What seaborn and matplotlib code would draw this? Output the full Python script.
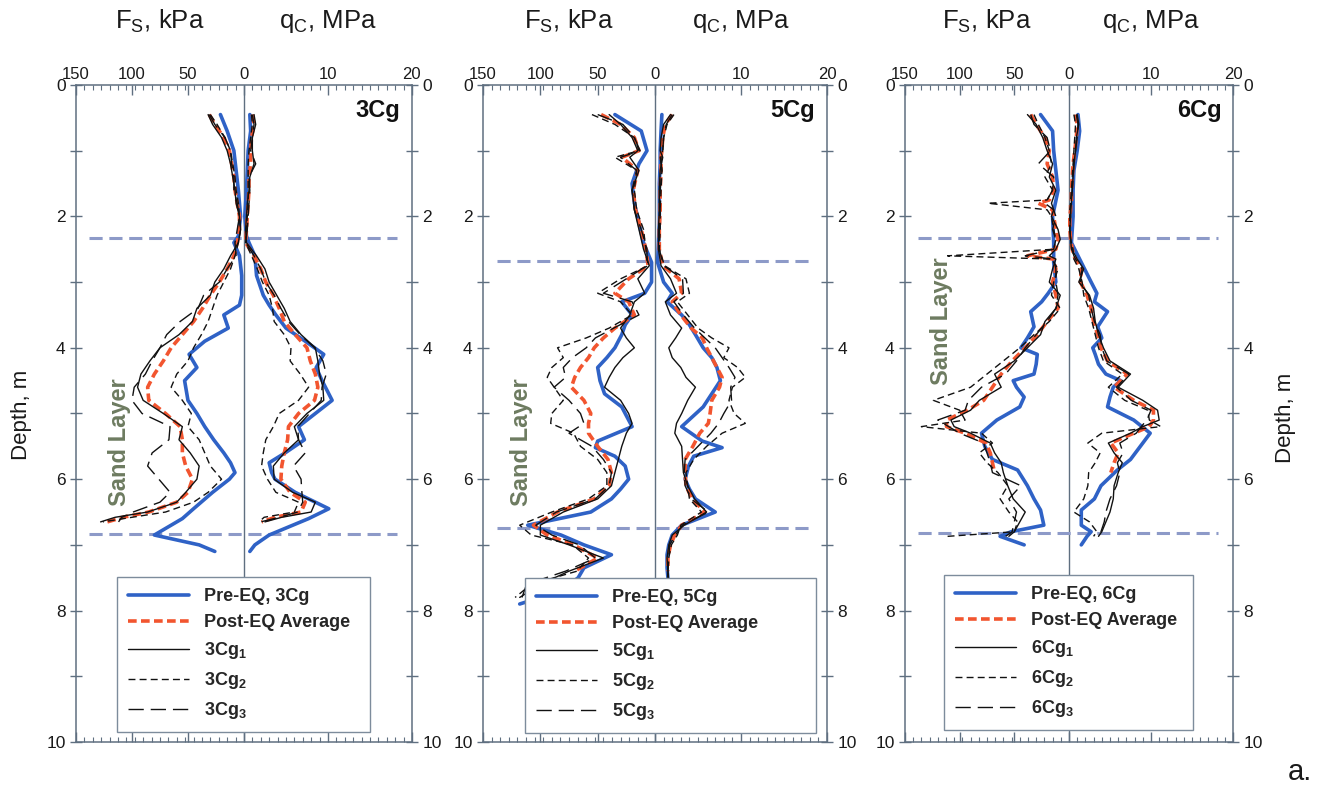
import numpy as np
import matplotlib
matplotlib.use("Agg")
import matplotlib.pyplot as plt
import seaborn as sns

sns.set_style("ticks")
plt.rcParams["font.family"] = ["Liberation Sans", "DejaVu Sans"]
plt.rcParams["mathtext.fontset"] = "custom"
plt.rcParams["mathtext.rm"] = "Liberation Sans"
plt.rcParams["mathtext.bf"] = "Liberation Sans:bold"
plt.rcParams["mathtext.default"] = "rm"

FS_PER_UNIT = 7.5  # 150 kPa of Fs shares the width of 20 MPa of qc

# ---------------- Panel 1 : 3Cg ----------------
p1_depth_pre = [0.45,0.7,1.0,1.3,1.6,2.0,2.3,2.4,2.6,2.9,3.2,3.35,3.5,3.7,3.9,4.1,4.3,4.5,4.8,5.0,5.2,5.4,5.6,5.75,5.9,6.0,6.2,6.45,6.6,6.85,7.0,7.1]
p1_fs_pre = [21,15,9,7,5,3,5,9,4,2,2,4,18,14,35,49,42,53,50,42,35,27,18,12,8,13,28,45,55,80,40,26]
p1_qc_pre = [0.7,0.8,0.5,0.4,0.3,0.1,0.3,0.6,1.3,1.5,2.3,3.0,3.8,5.0,7.3,9.5,8.6,9.3,10.5,8.5,6.5,7.2,4.9,3.0,3.3,3.7,6.1,10.1,7.7,3.0,1.3,0.7]
p1_depth_post = [0.45,0.6,0.8,1.0,1.2,1.4,1.6,1.8,2.0,2.2,2.4,2.6,2.8,3.0,3.2,3.4,3.6,3.8,4.0,4.2,4.4,4.6,4.8,5.0,5.2,5.4,5.6,5.8,6.0,6.2,6.35,6.5,6.58,6.65]
p1_fs_avg = [31,26,18,13,11,9,8,6,4,4,6,9,15,22,30,37,45,55,65,72,80,86,85,70,57,55,55,52,46,50,60,85,108,122]
p1_fs_1 = [32,28,20,15,12,10,8,7,4,3,5,12,18,26,30,42,46,58,75,84,92,95,90,72,55,58,48,40,42,52,60,86,115,128]
p1_fs_2 = [30,24,17,12,10,8,7,5,4,3,5,8,12,18,24,28,32,38,45,50,60,65,55,47,50,40,35,30,20,32,45,70,100,126]
p1_fs_3 = [31,26,17,12,11,9,9,6,4,6,8,7,15,22,36,41,57,69,75,82,88,98,100,91,66,67,82,86,76,66,75,99,109,112]
p1_qc_avg = [1.0,1.2,0.9,0.8,0.8,0.6,0.6,0.5,0.4,0.3,0.2,1.2,2.0,2.6,3.5,4.2,4.8,6.1,7.5,7.9,8.5,8.8,8.4,6.5,5.3,5.2,4.8,4.5,4.4,5.5,7.3,6.8,3.7,2.1]
p1_qc_1 = [1.2,1.4,1.0,1.0,1.2,0.7,0.6,0.4,0.3,0.2,0.3,1.5,2.5,3.0,3.9,4.8,5.5,6.8,8.5,8.8,9.0,9.4,9.5,7.5,6.0,6.5,4.8,3.5,3.6,5.8,8.5,8.0,4.5,2.5]
p1_qc_2 = [0.9,1.0,0.8,0.6,0.5,0.5,0.5,0.5,0.4,0.3,0.2,0.9,1.6,2.2,3.0,3.4,3.6,4.8,5.6,5.5,6.7,7.7,6.5,4.2,3.5,2.6,2.3,2.1,2.8,3.8,6.5,6.0,2.4,1.8]
p1_qc_3 = [1.0,1.2,1.0,0.8,1.4,0.6,0.7,0.6,0.5,0.4,0.2,1.2,2.0,2.6,3.6,4.4,5.3,6.7,8.4,9.4,9.8,9.3,9.2,7.8,6.4,6.5,7.3,5.9,6.8,6.9,7.0,6.4,4.2,2.0]

# ---------------- Panel 2 : 5Cg ----------------
p2_depth_pre = [0.45,0.7,1.0,1.2,1.5,1.8,2.1,2.4,2.7,3.0,3.17,3.3,3.5,3.65,3.8,4.0,4.15,4.3,4.5,4.7,4.9,5.2,5.42,5.52,5.65,5.8,6.0,6.15,6.3,6.5,6.7,6.85,7.0,7.15,7.35,7.5,7.7,7.9]
p2_fs_pre = [35,12,7,14,20,18,14,10,3,3,9,29,20,26,29,35,42,50,48,44,29,20,50,52,35,26,23,30,38,56,111,82,62,38,62,67,82,118]
p2_qc_pre = [0.8,0.7,0.6,0.6,0.5,0.5,0.5,0.4,0.3,1.0,2.0,1.4,3.1,4.0,4.7,5.6,6.6,7.2,7.6,6.6,5.6,3.1,5.5,7.8,4.5,3.9,3.5,4.0,4.7,7.0,3.1,2.0,1.6,1.4,1.4,1.5,1.5,1.5]
p2_depth_post = [0.45,0.6,0.8,1.0,1.1,1.3,1.6,1.9,2.2,2.5,2.75,2.95,3.17,3.3,3.5,3.7,3.85,4.0,4.15,4.3,4.45,4.6,4.8,5.0,5.15,5.3,5.5,5.7,5.9,6.1,6.3,6.5,6.7,6.85,7.0,7.2,7.4,7.6,7.8]
p2_depth_avg = [0.45,0.6,0.8,1.0,1.1,1.3,1.6,1.9,2.2,2.5,2.75,2.95,3.17,3.3,3.5,3.7,3.85,4.0,4.15,4.3,4.45,4.6,4.8,5.0,5.15,5.3,5.5,5.7,5.9,6.1,6.3,6.5,6.7,6.85,7.0,7.2,7.4]
p2_fs_avg = [47,30,18,14,29,15,19,17,12,8,6,23,35,23,18,35,45,53,58,65,70,73,62,56,58,58,50,41,38,40,53,85,106,94,71,50,70]
p2_fs_1 = [40,30,20,15,22,14,20,18,14,10,5,15,9,18,22,30,25,18,28,35,40,44,30,23,20,25,29,32,35,38,50,80,100,100,75,45,75,100,118]
p2_fs_2 = [55,35,18,14,35,16,18,16,10,8,6,30,50,30,20,40,60,85,80,90,94,88,80,90,91,71,65,50,42,42,58,90,118,108,72,58,68,108,122]
p2_fs_3 = [50,28,18,13,30,16,20,18,12,7,7,25,45,20,14,36,52,60,72,80,78,88,75,65,62,75,55,45,38,40,52,86,104,90,66,52,78,112,116]
p2_qc_avg = [2.0,1.2,0.9,0.8,0.7,0.7,0.6,0.6,0.5,0.5,0.9,2.8,3.1,2.0,3.0,4.2,5.5,6.0,6.6,7.2,7.8,7.5,6.6,6.4,6.2,5.2,4.4,3.5,3.5,3.6,4.3,5.8,3.1,2.3,1.8,1.5,1.5]
p2_qc_1 = [1.8,1.0,0.7,0.6,0.9,0.6,0.5,0.5,0.4,0.4,0.7,1.8,2.5,1.2,1.8,3.1,2.4,1.6,2.0,3.0,3.6,4.7,3.8,3.1,2.5,2.3,3.1,3.2,3.3,3.8,4.6,6.0,3.4,2.0,1.6,1.4,1.5,1.6,1.6]
p2_qc_2 = [2.2,1.4,1.0,0.9,0.7,0.8,0.7,0.6,0.6,0.5,1.1,3.6,4.0,2.6,3.8,5.0,6.6,8.6,8.0,9.6,10.5,9.0,8.6,9.2,10.5,7.8,6.0,4.5,3.6,3.8,4.0,5.4,3.0,2.6,1.9,1.6,1.5,1.5,1.6]
p2_qc_3 = [2.0,1.3,1.0,0.9,0.6,0.8,0.6,0.6,0.5,0.5,1.0,3.2,3.3,2.2,3.3,4.6,5.8,7.0,7.8,8.6,9.3,8.8,8.9,8.0,7.4,6.5,5.0,3.5,3.4,3.5,4.2,6.2,3.2,2.4,1.7,1.6,1.5,1.5,1.6]

# ---------------- Panel 3 : 6Cg ----------------
p3_depth_pre = [0.45,0.7,1.0,1.3,1.6,2.0,2.4,2.7,3.0,3.17,3.3,3.45,3.68,3.85,4.0,4.1,4.25,4.4,4.5,4.6,4.75,4.9,5.1,5.3,5.5,5.7,5.86,6.1,6.3,6.47,6.7,6.8,6.87,7.0]
p3_fs_pre = [26,15,14,12,10,15,14,14,12,19,25,35,32,38,44,29,30,32,51,48,41,45,66,80,77,70,47,38,32,26,23,53,63,41]
p3_qc_pre = [1.1,1.3,1.0,0.6,0.5,0.5,0.3,1.5,2.7,3.4,3.1,4.7,3.5,4.0,2.9,3.2,3.6,4.5,6.3,5.4,5.0,4.7,7.9,9.9,8.7,7.5,5.9,3.9,3.1,1.5,1.5,2.7,2.2,1.5]
p3_depth_post = [0.45,0.6,0.8,1.0,1.2,1.4,1.6,1.75,1.8,1.9,2.0,2.2,2.35,2.5,2.6,2.65,2.8,3.0,3.2,3.4,3.6,3.8,4.0,4.2,4.4,4.6,4.8,4.95,5.1,5.2,5.3,5.45,5.6,5.75,5.9,6.1,6.3,6.5,6.65,6.8,6.87]
p3_depth_avg = [0.45,0.6,0.8,1.0,1.2,1.4,1.6,1.75,1.8,1.9,2.0,2.2,2.35,2.5,2.6,2.65,2.8,3.0,3.2,3.4,3.6,3.8,4.0,4.2,4.4,4.6,4.8,4.95,5.1,5.2,5.3,5.45,5.6,5.75,5.9]
p3_fs_avg = [35,30,22,18,20,15,14,18,28,15,14,12,10,12,38,14,12,15,12,10,20,29,40,52,62,70,78,93,112,112,95,76,72,70,68]
p3_fs_1 = [38,30,24,20,15,18,12,15,16,14,16,10,8,12,18,12,15,18,8,12,22,26,38,50,68,62,82,90,108,105,90,72,68,62,60,56,51,40,45,50,55]
p3_fs_2 = [32,28,22,18,16,22,15,20,74,20,16,14,12,14,111,16,10,14,16,8,18,32,45,60,75,90,124,100,95,135,80,70,82,75,65,56,63,55,47,50,111]
p3_fs_3 = [35,32,20,17,28,14,15,20,22,14,12,15,12,14,40,14,12,12,10,12,20,30,40,48,58,80,92,95,120,110,100,78,75,72,70,44,55,48,50,52,58]
p3_qc_avg = [0.8,1.0,0.9,0.7,0.5,0.4,0.3,0.3,0.2,0.2,0.1,0.1,0.2,0.4,0.6,0.8,1.5,1.4,2.2,2.7,3.0,3.5,3.9,4.7,7.1,5.5,7.9,10.3,10.3,9.8,7.9,5.1,6.0,5.5,5.1]
p3_qc_1 = [1.0,1.2,0.9,0.8,0.6,0.5,0.4,0.3,0.3,0.2,0.2,0.1,0.2,0.3,0.8,1.0,1.8,1.2,2.5,3.0,3.2,3.6,4.2,5.0,7.5,6.0,9.0,10.8,11.0,9.0,7.5,4.8,5.5,6.5,6.0,5.5,5.4,5.0,4.5,4.0,3.6]
p3_qc_2 = [0.6,0.8,0.7,0.6,0.5,0.4,0.3,0.2,0.2,0.1,0.1,0.1,0.2,0.5,0.5,0.6,1.2,1.6,1.8,2.4,2.8,3.2,3.6,4.2,6.5,4.8,6.8,9.6,9.8,11.2,4.0,2.3,3.8,3.2,2.4,2.3,1.8,0.6,2.5,3.4,3.0]
p3_qc_3 = [0.9,1.1,1.0,0.8,0.6,0.5,0.4,0.3,0.2,0.2,0.2,0.1,0.2,0.4,0.6,0.8,1.6,1.4,2.4,2.7,3.1,3.8,4.0,4.6,7.3,5.8,7.6,10.0,9.5,8.8,8.2,6.2,6.6,5.9,6.2,5.8,5.0,4.5,4.3,3.9,4.2]

panel_names = ["3Cg", "5Cg", "6Cg"]
sand_top = [2.33, 2.68, 2.33]
sand_bottom = [6.83, 6.74, 6.82]
fs_ticks = [150, 100, 50, 0]
qc_ticks = [10, 20]
depth_ticks = [0, 2, 4, 6, 8, 10]

BLUE = "#2f62c6"
RED = "#f2552f"
BLACK = "#111111"
SPINE = "#5f6f80"
SAND = "#6d7b60"
LAYER = "#8d9ac8"


def trace(ax, x, y, **kw):
    sns.lineplot(x=x, y=y, sort=False, estimator=None, ax=ax, **kw)
    return ax.lines[-1]


def draw_panel(ax, name, d_pre, fs_pre, qc_pre, d_avg, fs_avg, qc_avg, d_post,
               fs_list, qc_list, top, bottom, sand_pos, leg_box):
    fsx = lambda v: -np.asarray(v, dtype=float) / FS_PER_UNIT
    ax.axvline(0, color=SPINE, lw=1.0, zorder=1)
    for d in (top, bottom):
        ax.axhline(d, xmin=0.04, xmax=0.955, color=LAYER, lw=2.2,
                   linestyle=(0, (4.3, 2.2)), zorder=1)
    styles = [dict(color=BLACK, lw=1.0, linestyle="-"),
              dict(color=BLACK, lw=1.0, linestyle=(0, (5, 3))),
              dict(color=BLACK, lw=1.0, linestyle=(0, (11, 5)))]
    h_pre = trace(ax, fsx(fs_pre), d_pre, color=BLUE, lw=2.6, zorder=3)
    trace(ax, qc_pre, d_pre, color=BLUE, lw=2.6, zorder=3)
    h_avg = trace(ax, fsx(fs_avg), d_avg, color=RED, lw=2.6,
                  linestyle=(0, (2.4, 1.2)), zorder=4)
    trace(ax, qc_avg, d_avg, color=RED, lw=2.6, linestyle=(0, (2.4, 1.2)), zorder=4)
    h_ind = []
    for fs, qc, st in zip(fs_list, qc_list, styles):
        h_ind.append(trace(ax, fsx(fs), d_post, zorder=5, **st))
        trace(ax, qc, d_post, zorder=5, **st)

    ax.set_xlim(-20, 20)
    ax.set_ylim(10, 0)
    ax.set_xlabel("")
    ax.set_ylabel("")
    major = [-t / FS_PER_UNIT for t in fs_ticks] + qc_ticks
    ax.set_xticks(major)
    ax.set_xticklabels([str(t) for t in fs_ticks] + [str(t) for t in qc_ticks])
    ax.set_xticks(np.arange(-20, 21, 1), minor=True)
    ax.set_yticks(depth_ticks)
    ax.set_yticklabels([str(t) for t in depth_ticks])
    ax.set_yticks([1, 3, 5, 7, 9], minor=True)
    ax.tick_params(axis="x", which="both", top=True, bottom=True, labeltop=True,
                   labelbottom=False, direction="in", colors=SPINE,
                   labelcolor="#1a1a1a", labelsize=12, pad=2)
    ax.tick_params(axis="x", which="major", length=7, width=1)
    ax.tick_params(axis="x", which="minor", length=3.5, width=0.8)
    ax.tick_params(axis="y", which="both", left=True, right=True, labelleft=True,
                   labelright=True, direction="inout", length=9, width=1,
                   colors=SPINE, labelcolor="#1a1a1a", labelsize=12.5, pad=3)
    for sp in ax.spines.values():
        sp.set_color(SPINE)
        sp.set_linewidth(1.1)
        sp.set_visible(True)

    ax.text(0.965, 0.978, name, transform=ax.transAxes, ha="right", va="top",
            fontsize=17, fontweight="bold", color="#111111", zorder=6)
    ax.text(0.25, 1.097, r"F$_S$, kPa", transform=ax.transAxes, ha="center",
            va="center", fontsize=18.5, color="#1a1a1a")
    ax.text(0.75, 1.097, r"q$_C$, MPa", transform=ax.transAxes, ha="center",
            va="center", fontsize=18.5, color="#1a1a1a")
    ax.text(sand_pos[0], sand_pos[1], "Sand Layer", rotation=90, ha="center",
            va="center", fontsize=17, fontweight="bold", color=SAND, zorder=6)

    labels = [f"Pre-EQ, {name}", "Post-EQ Average",
              name + r"$_\mathbf{1}$", name + r"$_\mathbf{2}$", name + r"$_\mathbf{3}$"]
    leg = ax.legend([h_pre, h_avg] + h_ind, labels, loc="lower left",
                    bbox_to_anchor=leg_box, mode="expand", frameon=True,
                    fancybox=False, framealpha=1, edgecolor="#7d8c9c",
                    prop={"weight": "bold", "size": 13}, handlelength=3.4,
                    handletextpad=0.8, labelspacing=0.5, borderpad=0.6,
                    borderaxespad=0)
    leg.get_frame().set_linewidth(1.0)
    leg.set_zorder(10)


fig = plt.figure(figsize=(13.19, 7.90), dpi=100)
rects = [(0.0576, 0.0608, 0.2547, 0.8316),
         (0.3662, 0.0608, 0.2608, 0.8316),
         (0.6861, 0.0608, 0.2487, 0.8316)]
axes = [fig.add_axes(r) for r in rects]

draw_panel(axes[0], panel_names[0], p1_depth_pre, p1_fs_pre, p1_qc_pre,
           p1_depth_post, p1_fs_avg, p1_qc_avg, p1_depth_post,
           [p1_fs_1, p1_fs_2, p1_fs_3], [p1_qc_1, p1_qc_2, p1_qc_3],
           sand_top[0], sand_bottom[0], (-14.8, 5.43), (0.122, 0.015, 0.753, 0.2))
draw_panel(axes[1], panel_names[1], p2_depth_pre, p2_fs_pre, p2_qc_pre,
           p2_depth_avg, p2_fs_avg, p2_qc_avg, p2_depth_post,
           [p2_fs_1, p2_fs_2, p2_fs_3], [p2_qc_1, p2_qc_2, p2_qc_3],
           sand_top[1], sand_bottom[1], (-15.5, 5.43), (0.122, 0.014, 0.846, 0.2))
draw_panel(axes[2], panel_names[2], p3_depth_pre, p3_fs_pre, p3_qc_pre,
           p3_depth_avg, p3_fs_avg, p3_qc_avg, p3_depth_post,
           [p3_fs_1, p3_fs_2, p3_fs_3], [p3_qc_1, p3_qc_2, p3_qc_3],
           sand_top[2], sand_bottom[2], (-15.5, 3.6), (0.119, 0.018, 0.759, 0.2))

fig.text(22 / 1319, 1 - 415 / 790, "Depth, m", rotation=90, ha="center",
         va="center", fontsize=16, color="#1a1a1a")
fig.text(1285 / 1319, 1 - 418 / 790, "Depth, m", rotation=90, ha="center",
         va="center", fontsize=16, color="#1a1a1a")
fig.text(1300 / 1319, 1 - 772 / 790, "a.", ha="center", va="center",
         fontsize=21, color="#1a1a1a")

fig.savefig("out.png", dpi=100, facecolor="white")
